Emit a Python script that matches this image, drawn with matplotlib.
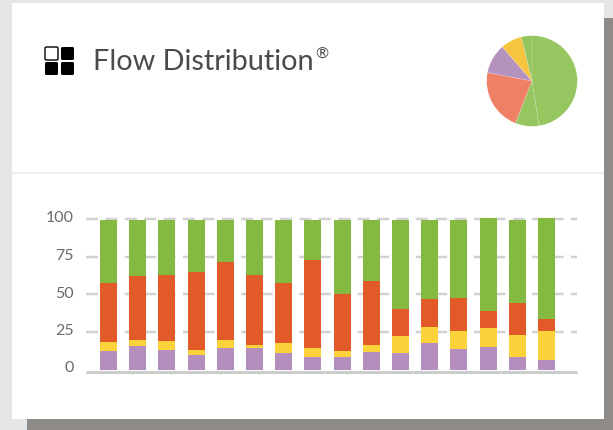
"""
Flow Distribution card: small pie above a stacked bar chart
"""

import matplotlib
matplotlib.use("Agg")
import matplotlib.pyplot as plt
from matplotlib.patches import Rectangle, FancyBboxPatch
from matplotlib.transforms import ScaledTranslation

W, H = 613, 430
DPI = 100
PX = 72 / DPI  # points per pixel

purple = [12.7, 16, 13.3, 10, 14.7, 14.7, 11.3, 8.7, 8.7, 12, 11.3, 18, 14, 15.3, 8.7, 6.7]
yellow = [6, 4, 6, 3.3, 5.3, 2, 6.7, 6, 4, 4.7, 11.4, 10.7, 12, 12.7, 14.6, 19.3]
orange = [39.3, 42.7, 44, 52, 52, 46.6, 40, 58.6, 38, 42.6, 18, 18.6, 22, 11.3, 21.4, 8]
green = [42, 37.3, 36.7, 34.7, 28, 36.7, 42, 26.7, 49.3, 40.7, 59.3, 52.7, 52, 62, 55.3, 67.3]
y_ticks = [0, 25, 50, 75, 100]

pie_values = [47.5, 8.5, 22, 10.6, 7.6, 3.8]
pie_colors = ["#95c65f", "#95c65f", "#ee8065", "#b593bf", "#f7c43e", "#95c65f"]

plt.rcParams["font.family"] = ["Lato", "DejaVu Sans"]

fig = plt.figure(figsize=(W / DPI, H / DPI), dpi=DPI, facecolor="#e5e6e8")


def px_box(left, top, right, bottom):
    return [left / W, 1 - bottom / H, (right - left) / W, (bottom - top) / H]


# card, shadow, separator and icon, in pixel coordinates
bg = fig.add_axes([0, 0, 1, 1], zorder=0)
bg.set_xlim(0, W)
bg.set_ylim(H, 0)
bg.axis("off")
bg.add_patch(Rectangle((604, 18), 9, 412, color="#8e8a88", lw=0))
bg.add_patch(Rectangle((27, 419), 586, 11, color="#8e8a88", lw=0))
bg.add_patch(Rectangle((12, 3), 592, 416, color="white", lw=0))
bg.add_patch(Rectangle((12, 171.5), 592, 2.5, color="#eeeeee", lw=0))

for x0, y0, filled in [(45, 47, False), (61, 47, True), (45, 62, True), (61, 62, True)]:
    inset = 2 if filled else 2.5
    bg.add_patch(FancyBboxPatch(
        (x0 + inset, y0 + inset), 13 - 2 * inset, 13 - 2 * inset,
        boxstyle=f"round,pad={inset},rounding_size=1.5",
        facecolor="black" if filled else "white", edgecolor="black", lw=0 if filled else 1.0,
    ))

bg.text(93, 70, "Flow Distribution", fontsize=20.8, color="#4a4a4a", va="baseline")
bg.text(315, 59, "®", fontsize=11.5, color="#4a4a4a", va="baseline")

# pie
pie_ax = fig.add_axes(px_box(486, 35, 578, 127), zorder=1)
pie_ax.pie(pie_values, colors=pie_colors, startangle=90, counterclock=False, radius=1,
           wedgeprops={"edgecolor": "#ffffff44", "linewidth": 0.4})
pie_ax.set_xlim(-46 / 45.3, 46 / 45.3)
pie_ax.set_ylim(-46 / 45.3, 46 / 45.3)

# stacked bars
ax = fig.add_axes(px_box(86, 218, 577, 370), zorder=1)
ax.patch.set_alpha(0)
x = list(range(len(purple)))
bottom = [0] * len(x)
for values, color in [(purple, "#b48ebd"), (yellow, "#fcd23a"), (orange, "#e25a28"), (green, "#84ba40")]:
    ax.bar(x, values, bottom=bottom, width=0.582, color=color, linewidth=0, zorder=3)
    bottom = [b + v for b, v in zip(bottom, values)]

ax.set_xlim(-0.77, 16.04)
ax.set_ylim(0, 152 / 1.5)
ax.set_xticks([])
ax.set_yticks(y_ticks)
ax.tick_params(axis="y", length=0, pad=12 * PX, labelsize=11.5, labelcolor="#6a6a6a")
for side in ax.spines.values():
    side.set_visible(False)

# labels sit a little above their gridlines
label_shift = ScaledTranslation(0, 3 / DPI, fig.dpi_scale_trans)
for label in ax.get_yticklabels():
    label.set_transform(label.get_transform() + label_shift)

grid_shift = ScaledTranslation(0, 1 / DPI, fig.dpi_scale_trans)
for v in y_ticks[1:]:
    ax.plot([0, 1], [v, v], transform=ax.get_yaxis_transform() + grid_shift, color="#d2d2d2",
            linewidth=2.5 * PX, dashes=(4.8, 2.96), dash_capstyle="butt", clip_on=False, zorder=1)

base_shift = ScaledTranslation(0, -1.5 / DPI, fig.dpi_scale_trans)
ax.plot([0, 1], [0, 0], transform=ax.get_yaxis_transform() + base_shift, color="#cccccc",
        linewidth=3 * PX, solid_capstyle="butt", clip_on=False, zorder=2)

fig.savefig("out.png", dpi=DPI, facecolor=fig.get_facecolor())
